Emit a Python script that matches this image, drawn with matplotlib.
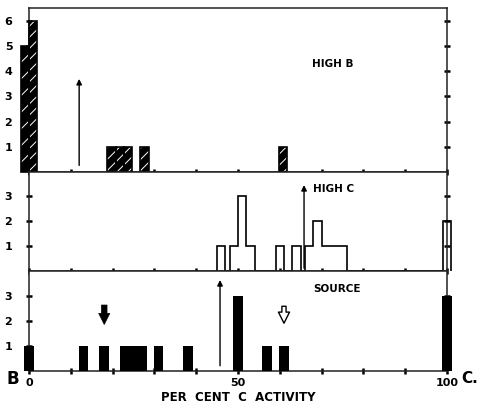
import matplotlib.pyplot as plt

# per cent C activity (bar centres) and counts
high_b_x = [-1.0, 1.0, 19.7, 21.7, 23.7, 27.6, 60.8]
high_b_n = [5, 6, 1, 1, 1, 1, 1]

# high C is drawn as an outlined histogram (bin edges + counts)
high_c_edges = [45, 47, 48, 50, 52, 54, 59, 61, 63, 65, 66, 68, 70, 76, 99, 101]
high_c_n = [1, 0, 1, 3, 1, 0, 1, 0, 1, 0, 1, 2, 1, 0, 2]

source_x = [0, 13, 18, 23, 25, 27, 31, 38, 50, 57, 61, 100]
source_n = [1, 1, 1, 1, 1, 1, 1, 1, 3, 1, 1, 3]

# marker arrows: (x, y_start, y_end)
arrow_b = (12, 0.15, 3.8)
arrow_c = (65.8, 0.0, 3.55)
arrow_src = (45.7, 0.1, 3.75)
down_filled = (18, 2.75, 1.75)
down_open = (61, 2.7, 1.8)

plt.rcParams['hatch.linewidth'] = 0.7

W, H = 481, 407
fig = plt.figure(figsize=(W / 100, H / 100), dpi=100)


def rect(top_px, bot_px):
    left, right = 29 / W, 447 / W
    return [left, 1 - bot_px / H, right - left, (bot_px - top_px) / H]


ax_b = fig.add_axes(rect(8, 172))
ax_c = fig.add_axes(rect(172, 271))
ax_s = fig.add_axes(rect(271, 371))

bold = dict(fontweight='bold', family='DejaVu Sans')

for ax in (ax_b, ax_c, ax_s):
    ax.set_xlim(0, 100)
    ax.set_xticks(range(0, 101, 10))
    ax.tick_params(axis='both', direction='inout', length=4, width=1.8,
                   left=True, right=True, labelsize=8, pad=10)
    ax.tick_params(axis='x', pad=3)
    for s in ax.spines.values():
        s.set_linewidth(1.1)
        s.set_color('#222222')

# HIGH B
ax_b.set_ylim(0, 6.5)
ax_b.set_yticks(range(1, 7))
ax_b.set_yticklabels([str(v) for v in range(1, 7)], **bold, fontsize=8)
ax_b.set_xticklabels([])
ax_b.bar(high_b_x[:1], high_b_n[:1], width=2.0, color='black', edgecolor='white',
         hatch='//', linewidth=0, clip_on=False, zorder=3)
ax_b.bar(high_b_x[1:], high_b_n[1:], width=2.0, color='black', edgecolor='white',
         hatch='///', linewidth=0, clip_on=False, zorder=3)
ax_b.bar(high_b_x, high_b_n, width=2.0, fill=False, edgecolor='black',
         linewidth=1.2, clip_on=False, zorder=4)
ax_b.annotate('', xy=(arrow_b[0], arrow_b[2]), xytext=(arrow_b[0], arrow_b[1]),
              arrowprops=dict(arrowstyle='-|>', lw=1.0, color='black',
                              mutation_scale=8))
ax_b.text(67.7, 4.3, 'HIGH B', fontsize=7.5, va='center', **bold)

# HIGH C
ax_c.set_ylim(0, 3.96)
ax_c.set_yticks([1, 2, 3])
ax_c.set_yticklabels(['1', '2', '3'], **bold, fontsize=8)
ax_c.set_xticklabels([])
ax_c.stairs(high_c_n, high_c_edges, color='black', linewidth=1.2,
            clip_on=False, zorder=3)
ax_c.annotate('', xy=(arrow_c[0], arrow_c[2]), xytext=(arrow_c[0], arrow_c[1]),
              arrowprops=dict(arrowstyle='-|>', lw=1.0, color='black',
                              mutation_scale=8))
ax_c.text(68, 3.3, 'HIGH C', fontsize=7.5, va='center', **bold)

# SOURCE
ax_s.set_ylim(0, 4.0)
ax_s.set_yticks([1, 2, 3])
ax_s.set_yticklabels(['1', '2', '3'], **bold, fontsize=8)
ax_s.set_xticklabels(['0', '', '', '', '', '50', '', '', '', '', '100'],
                     **bold, fontsize=8)
ax_s.bar(source_x, source_n, width=2.3, color='black', clip_on=False, zorder=3)
ax_s.annotate('', xy=(arrow_src[0], arrow_src[2]), xytext=(arrow_src[0], arrow_src[1]),
              arrowprops=dict(arrowstyle='-|>', lw=1.0, color='black',
                              mutation_scale=8))
ax_s.annotate('', xy=(down_filled[0], down_filled[2]),
              xytext=(down_filled[0], down_filled[1]),
              arrowprops=dict(arrowstyle='simple,head_width=0.8,head_length=0.8,tail_width=0.4',
                              color='black', lw=0.5))
ax_s.annotate('', xy=(down_open[0], down_open[2]),
              xytext=(down_open[0], down_open[1]),
              arrowprops=dict(arrowstyle='simple,head_width=0.8,head_length=0.8,tail_width=0.3',
                              facecolor='white', edgecolor='black', lw=1.0))
ax_s.text(68, 3.3, 'SOURCE', fontsize=7.5, va='center', **bold)
ax_s.text(-3.8, -0.3, 'B', fontsize=12, va='center', ha='center', **bold)
ax_s.text(105.5, -0.3, 'C.', fontsize=11, va='center', ha='center', **bold)
ax_s.set_xlabel('PER  CENT  C  ACTIVITY', fontsize=8.5, labelpad=2, **bold)

fig.savefig('out.png', dpi=100)
